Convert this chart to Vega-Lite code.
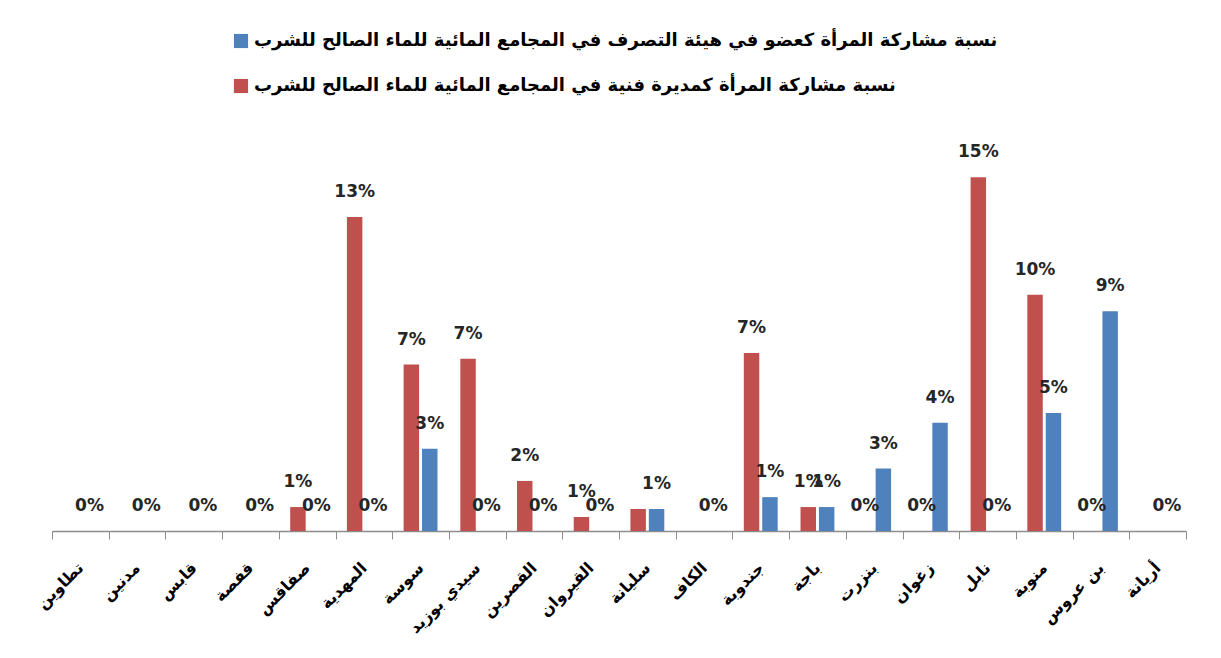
{
  "$schema": "https://vega.github.io/schema/vega-lite/v6.json",
  "autosize": "none",
  "width": 1134,
  "height": 387,
  "padding": {"left": 52, "top": 144, "right": 35, "bottom": 127},
  "background": "white",
  "config": {"view": {"stroke": null}},
  "data": {
    "values": [
      {"region": "تطاوين", "series": "نسبة مشاركة المرأة كعضو في هيئة التصرف في المجامع المائية للماء الصالح للشرب", "value": 0},
      {"region": "مدنين", "series": "نسبة مشاركة المرأة كعضو في هيئة التصرف في المجامع المائية للماء الصالح للشرب", "value": 0},
      {"region": "قابس", "series": "نسبة مشاركة المرأة كعضو في هيئة التصرف في المجامع المائية للماء الصالح للشرب", "value": 0},
      {"region": "قفصة", "series": "نسبة مشاركة المرأة كعضو في هيئة التصرف في المجامع المائية للماء الصالح للشرب", "value": 0},
      {"region": "صفاقس", "series": "نسبة مشاركة المرأة كمديرة فنية في المجامع المائية للماء الصالح للشرب", "value": 0.0099},
      {"region": "صفاقس", "series": "نسبة مشاركة المرأة كعضو في هيئة التصرف في المجامع المائية للماء الصالح للشرب", "value": 0},
      {"region": "المهدية", "series": "نسبة مشاركة المرأة كمديرة فنية في المجامع المائية للماء الصالح للشرب", "value": 0.1298},
      {"region": "المهدية", "series": "نسبة مشاركة المرأة كعضو في هيئة التصرف في المجامع المائية للماء الصالح للشرب", "value": 0},
      {"region": "سوسة", "series": "نسبة مشاركة المرأة كمديرة فنية في المجامع المائية للماء الصالح للشرب", "value": 0.0688},
      {"region": "سوسة", "series": "نسبة مشاركة المرأة كعضو في هيئة التصرف في المجامع المائية للماء الصالح للشرب", "value": 0.034},
      {"region": "سيدي بوزيد", "series": "نسبة مشاركة المرأة كمديرة فنية في المجامع المائية للماء الصالح للشرب", "value": 0.0712},
      {"region": "سيدي بوزيد", "series": "نسبة مشاركة المرأة كعضو في هيئة التصرف في المجامع المائية للماء الصالح للشرب", "value": 0},
      {"region": "القصرين", "series": "نسبة مشاركة المرأة كمديرة فنية في المجامع المائية للماء الصالح للشرب", "value": 0.0207},
      {"region": "القصرين", "series": "نسبة مشاركة المرأة كعضو في هيئة التصرف في المجامع المائية للماء الصالح للشرب", "value": 0},
      {"region": "القيروان", "series": "نسبة مشاركة المرأة كمديرة فنية في المجامع المائية للماء الصالح للشرب", "value": 0.0058},
      {"region": "القيروان", "series": "نسبة مشاركة المرأة كعضو في هيئة التصرف في المجامع المائية للماء الصالح للشرب", "value": 0},
      {"region": "سليانة", "series": "نسبة مشاركة المرأة كمديرة فنية في المجامع المائية للماء الصالح للشرب", "value": 0.0091},
      {"region": "سليانة", "series": "نسبة مشاركة المرأة كعضو في هيئة التصرف في المجامع المائية للماء الصالح للشرب", "value": 0.0091},
      {"region": "الكاف", "series": "نسبة مشاركة المرأة كعضو في هيئة التصرف في المجامع المائية للماء الصالح للشرب", "value": 0},
      {"region": "جندوبة", "series": "نسبة مشاركة المرأة كمديرة فنية في المجامع المائية للماء الصالح للشرب", "value": 0.0736},
      {"region": "جندوبة", "series": "نسبة مشاركة المرأة كعضو في هيئة التصرف في المجامع المائية للماء الصالح للشرب", "value": 0.014},
      {"region": "باجة", "series": "نسبة مشاركة المرأة كمديرة فنية في المجامع المائية للماء الصالح للشرب", "value": 0.0099},
      {"region": "باجة", "series": "نسبة مشاركة المرأة كعضو في هيئة التصرف في المجامع المائية للماء الصالح للشرب", "value": 0.0099},
      {"region": "بنزرت", "series": "نسبة مشاركة المرأة كمديرة فنية في المجامع المائية للماء الصالح للشرب", "value": 0},
      {"region": "بنزرت", "series": "نسبة مشاركة المرأة كعضو في هيئة التصرف في المجامع المائية للماء الصالح للشرب", "value": 0.0258},
      {"region": "زغوان", "series": "نسبة مشاركة المرأة كمديرة فنية في المجامع المائية للماء الصالح للشرب", "value": 0},
      {"region": "زغوان", "series": "نسبة مشاركة المرأة كعضو في هيئة التصرف في المجامع المائية للماء الصالح للشرب", "value": 0.0448},
      {"region": "نابل", "series": "نسبة مشاركة المرأة كمديرة فنية في المجامع المائية للماء الصالح للشرب", "value": 0.1463},
      {"region": "نابل", "series": "نسبة مشاركة المرأة كعضو في هيئة التصرف في المجامع المائية للماء الصالح للشرب", "value": 0},
      {"region": "منوبة", "series": "نسبة مشاركة المرأة كمديرة فنية في المجامع المائية للماء الصالح للشرب", "value": 0.0977},
      {"region": "منوبة", "series": "نسبة مشاركة المرأة كعضو في هيئة التصرف في المجامع المائية للماء الصالح للشرب", "value": 0.0488},
      {"region": "بن عروس", "series": "نسبة مشاركة المرأة كمديرة فنية في المجامع المائية للماء الصالح للشرب", "value": 0},
      {"region": "بن عروس", "series": "نسبة مشاركة المرأة كعضو في هيئة التصرف في المجامع المائية للماء الصالح للشرب", "value": 0.0909},
      {"region": "أريانة", "series": "نسبة مشاركة المرأة كعضو في هيئة التصرف في المجامع المائية للماء الصالح للشرب", "value": 0}
    ]
  },
  "encoding": {
    "x": {
      "field": "region",
      "type": "nominal",
      "sort": null,
      "scale": {"paddingInner": 0, "paddingOuter": 0},
      "axis": {
        "title": null,
        "labelAngle": -45,
        "labelAlign": "right",
        "labelBaseline": "middle",
        "labelFont": "DejaVu Sans",
        "labelFontWeight": "bold",
        "labelFontSize": 16,
        "labelColor": "black",
        "labelPadding": 26,
        "labelLimit": 200,
        "tickBand": "extent",
        "tickSize": 8,
        "tickColor": "#8c8c8c",
        "domainColor": "#8c8c8c",
        "domainWidth": 1.5
      }
    },
    "xOffset": {
      "field": "series",
      "type": "nominal",
      "scale": {
        "domain": [
          "نسبة مشاركة المرأة كمديرة فنية في المجامع المائية للماء الصالح للشرب",
          "نسبة مشاركة المرأة كعضو في هيئة التصرف في المجامع المائية للماء الصالح للشرب"
        ],
        "paddingInner": 0.16,
        "paddingOuter": 0.62
      }
    },
    "y": {
      "field": "value",
      "type": "quantitative",
      "scale": {"domain": [0, 0.16]},
      "axis": null
    }
  },
  "layer": [
    {
      "mark": {"type": "bar"},
      "encoding": {
        "color": {
          "field": "series",
          "type": "nominal",
          "scale": {
            "domain": [
              "نسبة مشاركة المرأة كعضو في هيئة التصرف في المجامع المائية للماء الصالح للشرب",
              "نسبة مشاركة المرأة كمديرة فنية في المجامع المائية للماء الصالح للشرب"
            ],
            "range": ["#4F81BD", "#C0504D"]
          },
          "legend": {
            "orient": "none",
            "legendX": 180,
            "legendY": -112,
            "title": null,
            "symbolType": "square",
            "symbolSize": 200,
            "symbolStrokeWidth": 0,
            "labelFont": "DejaVu Sans",
            "labelFontWeight": "bold",
            "labelFontSize": 18,
            "labelColor": "black",
            "labelLimit": 1000,
            "rowPadding": 27
          }
        }
      }
    },
    {
      "transform": [
        {"filter": "!(datum.region == 'سليانة' && datum.series == 'نسبة مشاركة المرأة كمديرة فنية في المجامع المائية للماء الصالح للشرب')"}
      ],
      "mark": {"type": "text", "dy": -20, "baseline": "alphabetic", "font": "DejaVu Sans", "fontWeight": "bold", "fontSize": 17, "color": "#262626"},
      "encoding": {
        "text": {"field": "value", "type": "quantitative", "format": ".0%"}
      }
    }
  ]
}
